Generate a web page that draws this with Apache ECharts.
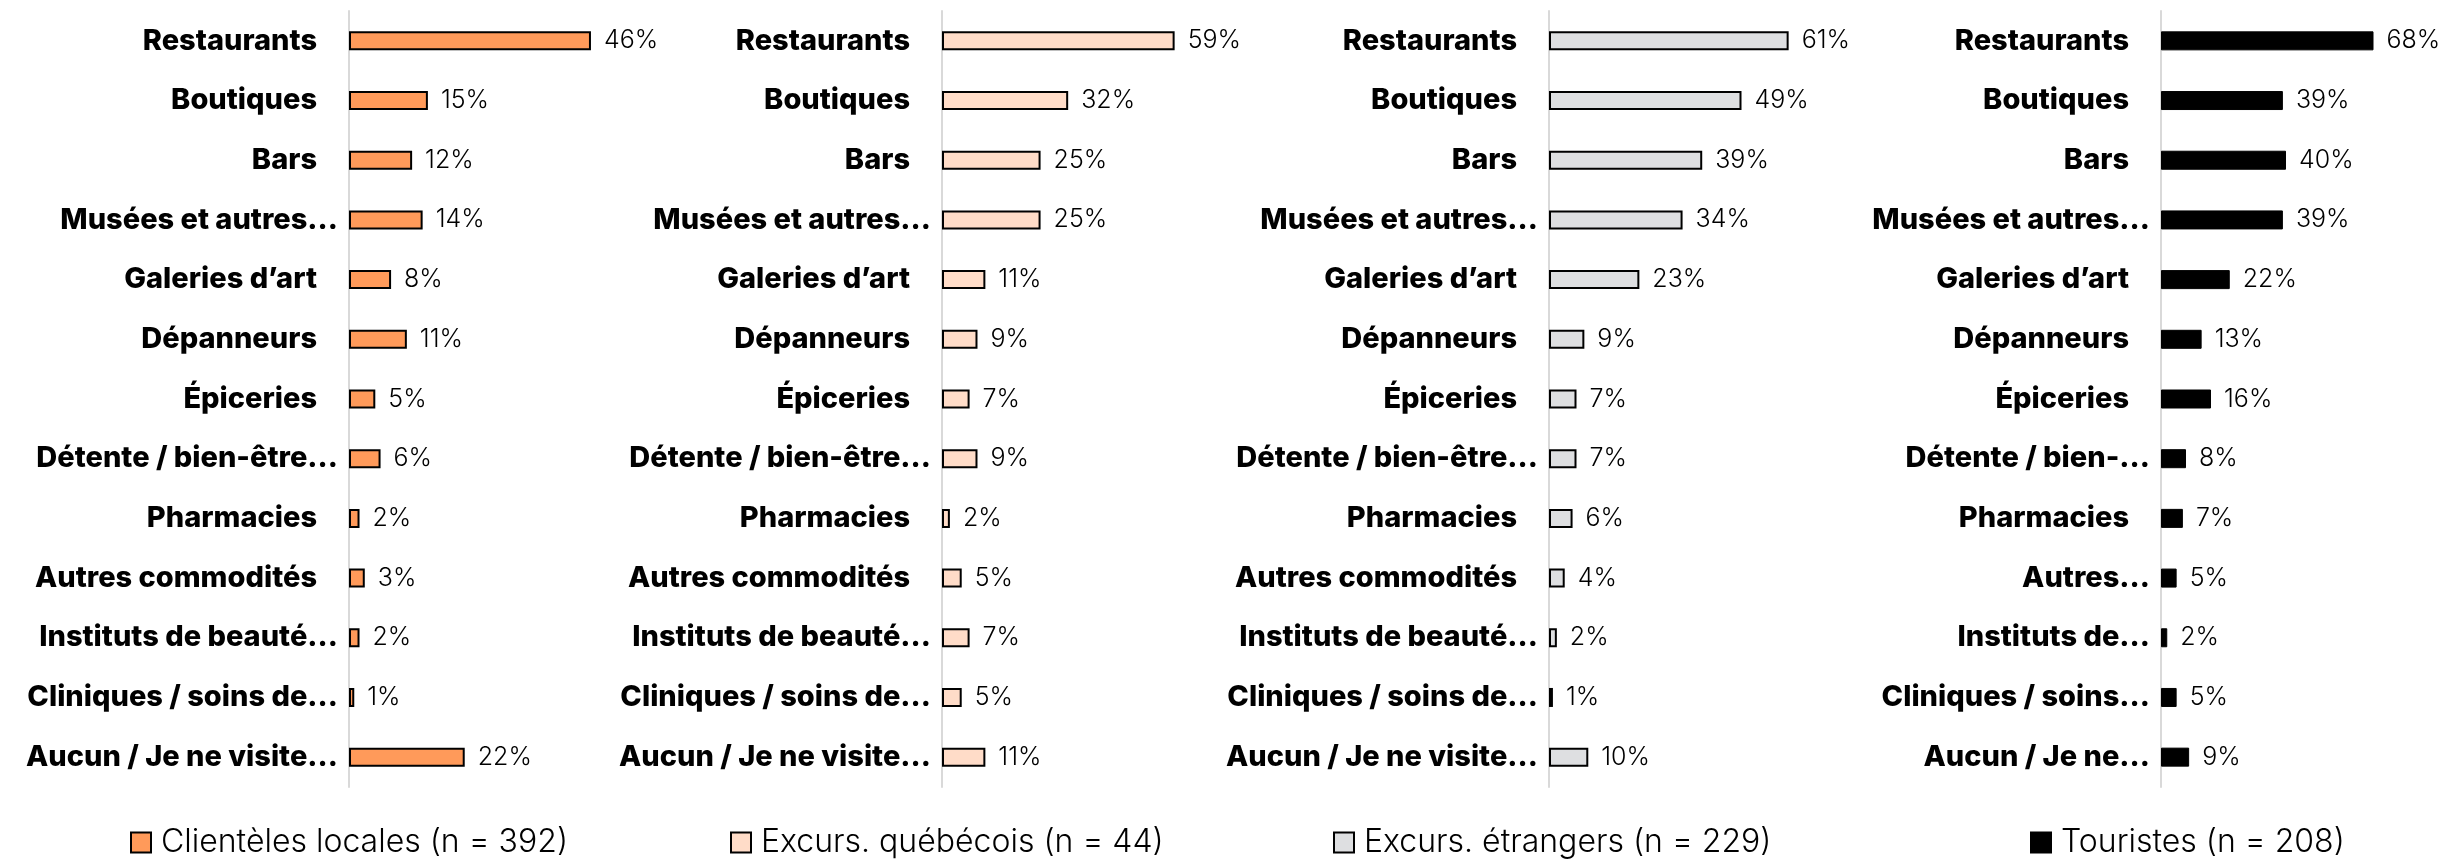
<!DOCTYPE html>
<html>
<head>
<meta charset="utf-8">
<style>
  html, body { margin: 0; padding: 0; background: #fff; }
  #chart { width: 2447px; height: 860px; }
</style>
<script src="https://cdn.jsdelivr.net/npm/echarts@6/dist/echarts.min.js"></script>
</head>
<body>
<div id="chart"></div>
<script>
// categories (labels as truncated in the source)
const catsLong = ['Restaurants', 'Boutiques', 'Bars', 'Musées et autres…', 'Galeries d’art', 'Dépanneurs', 'Épiceries',
  'Détente / bien-être…', 'Pharmacies', 'Autres commodités', 'Instituts de beauté…', 'Cliniques / soins de…', 'Aucun / Je ne visite…']
const catsShort = ['Restaurants', 'Boutiques', 'Bars', 'Musées et autres…', 'Galeries d’art', 'Dépanneurs', 'Épiceries',
  'Détente / bien-…', 'Pharmacies', 'Autres…', 'Instituts de…', 'Cliniques / soins…', 'Aucun / Je ne…']

const seriesNames = ['Clientèles locales (n = 392)', 'Excurs. québécois (n = 44)', 'Excurs. étrangers (n = 229)', 'Touristes (n = 208)']
const locales = [46, 15, 12, 14, 8, 11, 5, 6, 2, 3, 2, 1, 22]
const quebecois = [59, 32, 25, 25, 11, 9, 7, 9, 2, 5, 7, 5, 11]
const etrangers = [61, 49, 39, 34, 23, 9, 7, 7, 6, 4, 2, 1, 10]
const touristes = [68, 39, 40, 39, 22, 13, 16, 8, 7, 5, 2, 5, 9]

const values = [locales, quebecois, etrangers, touristes]
const categories = [catsLong, catsLong, catsLong, catsShort]
const colors = ['#FF9A5A', '#FFDCC8', '#DEDFE1', '#000000']
const axisMax = [50, 70, 70, 80]

// layout per panel
const gridLeft = [349, 942, 1549, 2161]
const gridWidth = [263, 276, 275, 250]
const legendLeft = [125, 725, 1328, 2025]

const fontFamily = 'Inter, "Noto Sans", sans-serif'

const chart = echarts.init(document.getElementById('chart'))

const grids = [], xAxes = [], yAxes = [], series = [], legends = []
for (let i = 0; i < 4; i++) {
  grids.push({ left: gridLeft[i], width: gridWidth[i], top: 11, bottom: 73 })
  xAxes.push({ type: 'value', gridIndex: i, min: 0, max: axisMax[i], show: false })
  yAxes.push({
    type: 'category',
    gridIndex: i,
    inverse: true,
    data: categories[i],
    axisLine: { show: true, lineStyle: { color: '#D9D9D9', width: 2 } },
    axisTick: { show: false },
    axisLabel: {
      interval: 0,
      margin: 11,
      formatter: function(v) {
        return v.endsWith('…') ? '{t|' + v + '}' : '{n|' + v + '}'
      },
      rich: {
        t: { fontSize: 29, fontWeight: 800, color: '#000', fontFamily: fontFamily },
        n: { fontSize: 29, fontWeight: 800, color: '#000', fontFamily: fontFamily, padding: [0, 21, 0, 0] }
      }
    }
  })
  series.push({
    name: seriesNames[i],
    type: 'bar',
    xAxisIndex: i,
    yAxisIndex: i,
    barWidth: 19,
    data: values[i],
    itemStyle: {
      color: colors[i],
      borderColor: '#000',
      borderWidth: i === 3 ? 1 : 2
    },
    label: {
      show: true,
      position: 'right',
      distance: 13,
      formatter: '{c}%',
      fontSize: 25,
      fontWeight: 300,
      color: '#000',
      fontFamily: fontFamily
    }
  })
  legends.push({
    data: [seriesNames[i]],
    left: legendLeft[i],
    top: 821,
    icon: 'rect',
    itemWidth: 20,
    itemHeight: 20,
    textStyle: {
      fontSize: 32,
      lineHeight: 33,
      fontWeight: 300,
      color: '#000',
      fontFamily: fontFamily,
      padding: [0, 0, 0, 5]
    }
  })
}

chart.setOption({
  animation: false,
  grid: grids,
  xAxis: xAxes,
  yAxis: yAxes,
  legend: legends,
  series: series
})
</script>
</body>
</html>
